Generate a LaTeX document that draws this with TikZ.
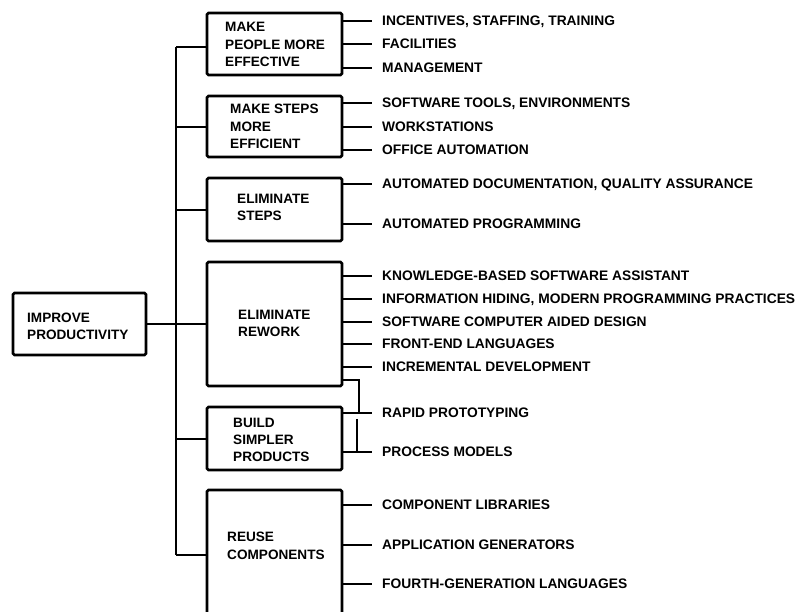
\documentclass[tikz,border=0pt]{standalone}
\usepackage{fontspec}
\setmainfont{Liberation Sans}
\begin{document}
\begin{tikzpicture}[x=1pt,y=-1pt,
  box/.style={draw, line width=2.6pt, rounded corners=1.5pt, minimum width=135pt, inner sep=0pt},
  wire/.style={line width=1.5pt},
  boxtext/.style={anchor=base west, align=left, inner sep=0pt,
    font=\fontsize{13.6}{17.5}\selectfont\bfseries},
  leaf/.style={anchor=west, inner xsep=10pt, inner ysep=0pt, text height=9.8pt, text depth=0pt,
    font=\fontsize{13.8}{17.5}\selectfont\bfseries}
]
\clip (0,0) rectangle (804,612);
\fill[white] (0,0) rectangle (804,612);

% root and second-level boxes
\node[box, minimum width=133pt, minimum height=62pt] (imp) at (79.5,324) {};
\node[box, minimum height=62pt]  (b1) at (274.5,44) {};
\node[box, minimum height=61pt]  (b2) at (274.5,126.5) {};
\node[box, minimum height=63pt]  (b3) at (274.5,209.5) {};
\node[box, minimum height=124pt] (b4) at (274.5,324) {};
\node[box, minimum height=63pt]  (b5) at (274.5,438.5) {};
\node[box, minimum height=150pt] (b6) at (274.5,565) {};

% box captions (placed by the baseline of their last line)
\node[boxtext] (timp) at (27,340) {IMPROVE\\PRODUCTIVITY};
\node[boxtext] (t1) at (225,67)  {MAKE\\PEOPLE MORE\\EFFECTIVE};
\node[boxtext] (t2) at (230,149) {MAKE STEPS\\MORE\\EFFICIENT};
\node[boxtext] (t3) at (237,221) {ELIMINATE\\STEPS};
\node[boxtext] (t4) at (238,337) {ELIMINATE\\REWORK};
\node[boxtext] (t5) at (233,462) {BUILD\\SIMPLER\\PRODUCTS};
\node[boxtext] (t6) at (227,559) {REUSE\\COMPONENTS};

% trunk
\coordinate (k1) at (176,47);
\coordinate (k2) at (176,127);
\coordinate (k3) at (176,210);
\coordinate (k5) at (176,439);
\coordinate (k6) at (176,555);
\draw[wire] (k1) -- (k6);
\draw[wire] (imp) -- (b4);
\draw[wire] (k1) -- (b1.west |- k1);
\draw[wire] (k2) -- (b2.west |- k2);
\draw[wire] (k3) -- (b3.west |- k3);
\draw[wire] (k5) -- (b5.west |- k5);
\draw[wire] (k6) -- (b6.west |- k6);

% leaves
\node[leaf] (l11) at (372,21)  {INCENTIVES, STAFFING, TRAINING};
\node[leaf] (l12) at (372,44)  {FACILITIES};
\node[leaf] (l13) at (372,68)  {MANAGEMENT};
\node[leaf] (l21) at (372,103) {SOFTWARE TOOLS, ENVIRONMENTS};
\node[leaf] (l22) at (372,127) {WORKSTATIONS};
\node[leaf] (l23) at (372,150) {OFFICE AUTOMATION};
\node[leaf] (l31) at (372,184) {AUTOMATED DOCUMENTATION, QUALITY ASSURANCE};
\node[leaf] (l32) at (372,224) {AUTOMATED PROGRAMMING};
\node[leaf] (l41) at (372,276) {KNOWLEDGE-BASED SOFTWARE ASSISTANT};
\node[leaf] (l42) at (372,299) {INFORMATION HIDING, MODERN PROGRAMMING PRACTICES};
\node[leaf] (l43) at (372,322) {SOFTWARE COMPUTER AIDED DESIGN};
\node[leaf] (l44) at (372,344) {FRONT-END LANGUAGES};
\node[leaf] (l45) at (372,367) {INCREMENTAL DEVELOPMENT};
\node[leaf] (l51) at (372,413) {RAPID PROTOTYPING};
\node[leaf] (l52) at (372,452) {PROCESS MODELS};
\node[leaf] (l61) at (372,505) {COMPONENT LIBRARIES};
\node[leaf] (l62) at (372,545) {APPLICATION GENERATORS};
\node[leaf] (l63) at (372,584) {FOURTH-GENERATION LANGUAGES};

\foreach \b/\l in {b1/l11,b1/l12,b1/l13,b2/l21,b2/l22,b2/l23,b3/l31,b3/l32,
  b4/l41,b4/l42,b4/l43,b4/l44,b4/l45,b5/l51,b5/l52,b6/l61,b6/l62,b6/l63}
  \draw[wire] (\b.east |- \l) -- (\l.west);

% rework also feeds the prototyping and process-model branches
\coordinate (r1) at (359,380);
\coordinate (r2) at (357,419);
\draw[wire] (b4.east |- r1) -- (r1) -- (r1 |- l51);
\draw[wire] (r2) -- (r2 |- l52);
\end{tikzpicture}
\end{document}
